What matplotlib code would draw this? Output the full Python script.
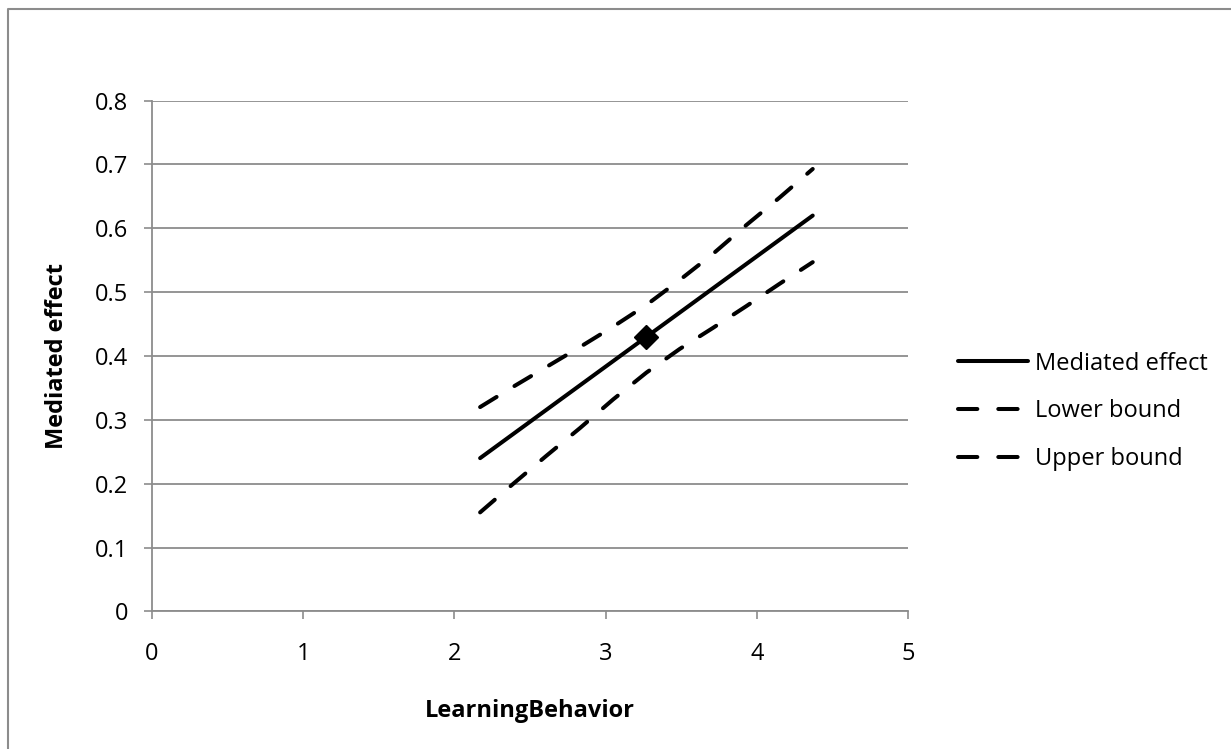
import matplotlib
matplotlib.use('Agg')
import matplotlib.pyplot as plt
from matplotlib.lines import Line2D

plt.rcParams['font.family'] = ['Open Sans', 'DejaVu Sans']

# values
x = [2.17, 2.39, 2.61, 2.83, 3.05, 3.27, 3.49, 3.71, 3.93, 4.15, 4.37]
mediated = [0.24, 0.278, 0.316, 0.354, 0.392, 0.43, 0.468, 0.506, 0.544, 0.582, 0.62]
lower = [0.155, 0.2, 0.244, 0.287, 0.332, 0.374, 0.411, 0.444, 0.478, 0.513, 0.547]
upper = [0.32, 0.352, 0.383, 0.414, 0.446, 0.48, 0.519, 0.56, 0.605, 0.648, 0.693]
point_x = [3.27]
point_y = [0.43]

xticks = [0, 1, 2, 3, 4, 5]
yticks = [0, 0.1, 0.2, 0.3, 0.4, 0.5, 0.6, 0.7, 0.8]
ytick_labels = ['0', '0.1', '0.2', '0.3', '0.4', '0.5', '0.6', '0.7', '0.8']

gray = '#8c8c8c'
fs = 17

fig = plt.figure(figsize=(12.31, 7.49), dpi=100)
ax = fig.add_axes([0.1235, 0.1838, 0.6141, 0.6818])

lw = 2.9
ax.plot(x, mediated, color='black', lw=lw, solid_capstyle='round', label='Mediated effect')
ax.plot(x, lower, color='black', lw=lw, dashes=(4.8, 5.2), dash_capstyle='round', label='Lower bound')
ax.plot(x, upper, color='black', lw=lw, dashes=(4.8, 5.2), dash_capstyle='round', label='Upper bound')
ax.plot(point_x, point_y, linestyle='none', marker='D', markersize=12.5, color='black', label='_nolegend_')

ax.set_xlim(0, 5)
ax.set_ylim(0, 0.8)
ax.set_xticks(xticks)
ax.set_yticks(yticks)
ax.set_yticklabels(ytick_labels)

ax.grid(axis='y', color=gray, lw=1.3)
ax.set_axisbelow(True)
for s in ['top', 'right']:
    ax.spines[s].set_visible(False)
for s in ['left', 'bottom']:
    ax.spines[s].set_color(gray)
    ax.spines[s].set_linewidth(1.3)
ax.tick_params(axis='both', direction='out', length=6, width=1.2, color=gray, labelsize=fs)
ax.tick_params(axis='x', pad=16)
ax.tick_params(axis='y', pad=11)

ax.set_xlabel('LearningBehavior', fontsize=fs, fontweight='bold', labelpad=24)
ax.set_ylabel('Mediated effect', fontsize=fs, fontweight='bold', labelpad=19)

ax.legend(loc='center left', bbox_to_anchor=(0.778, 0.451), bbox_transform=fig.transFigure,
          frameon=False, fontsize=fs, handlelength=2.97, handletextpad=0.3,
          labelspacing=1.0, borderpad=0, borderaxespad=0)

# outer chart border (only top and left edges visible in the reference)
fig.add_artist(Line2D([0.0065, 0.0065, 1.0], [0.0, 0.9886, 0.9886],
                      transform=fig.transFigure, color=gray, lw=1.5))

fig.savefig('out.png', dpi=100, facecolor='white')
